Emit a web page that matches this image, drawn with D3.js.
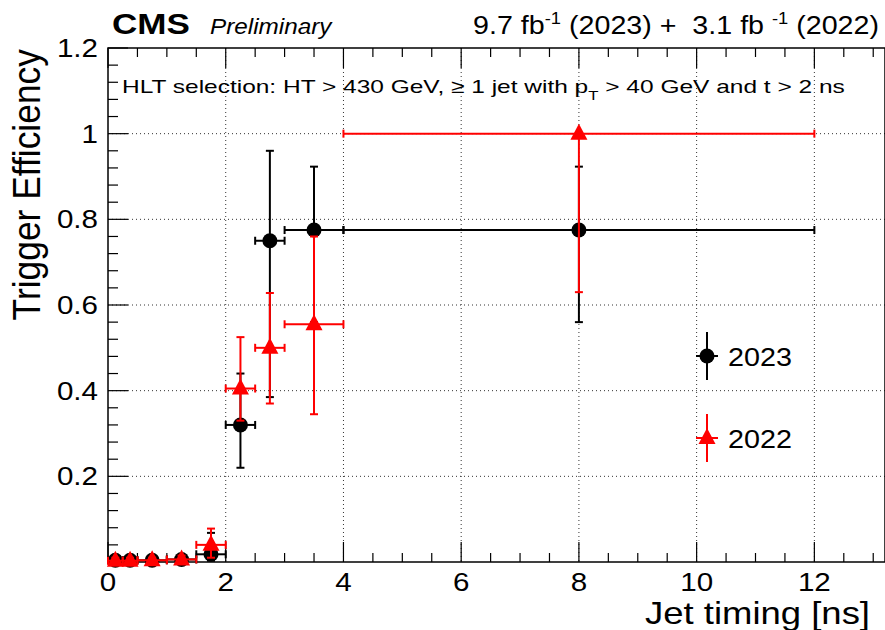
<!DOCTYPE html>
<html><head><meta charset="utf-8">
<script src="https://cdn.jsdelivr.net/npm/d3@7"></script>
<style>body{margin:0;background:#fff}svg{display:block;font-family:"Liberation Sans",Arial,sans-serif}text{white-space:pre}</style>
</head><body><svg id="c" width="885" height="630"></svg>
<script>
const binLo = [0, 0.25, 0.5, 1.0, 1.5, 2.0, 2.5, 3.0, 4.0];
const binHi = [0.25, 0.5, 1.0, 1.5, 2.0, 2.5, 3.0, 4.0, 12.0];
const eff2023 = [0.004, 0.004, 0.004, 0.006, 0.018, 0.32, 0.75, 0.775, 0.775];
const up2023  = [0.012, 0.010, 0.010, 0.012, 0.068, 0.44, 0.96, 0.923, 0.923];
const lo2023  = [0.0, 0.0, 0.0, 0.0, 0.003, 0.22, 0.385, 0.56, 0.56];
const eff2022 = [0.003, 0.003, 0.004, 0.006, 0.040, 0.405, 0.50, 0.555, 1.0];
const up2022  = [0.010, 0.010, 0.010, 0.015, 0.078, 0.525, 0.628, 0.76, 1.0];
const lo2022  = [0.0, 0.0, 0.0, 0.0, 0.010, 0.33, 0.37, 0.345, 0.63];
const xTicks = [0, 2, 4, 6, 8, 10, 12];
const yTicks = [0.2, 0.4, 0.6, 0.8, 1.0, 1.2];
const yTickLabels = ["0.2", "0.4", "0.6", "0.8", "1", "1.2"];

const svg = d3.select("#c");
const L = 108, R = 885, T = 48, B = 562;
const SX = 1.16; // horizontal text stretch seen in the reference
const x = d3.scaleLinear().domain([0, 13.2]).range([L, R]);
const y = d3.scaleLinear().domain([0, 1.2]).range([B, T]);

function txt(px, py, anchor, size, opts = {}) {
  const g = svg.append("g");
  const t = g.append("text").attr("text-anchor", anchor).attr("font-size", size);
  if (opts.weight) t.attr("font-weight", opts.weight);
  if (opts.style) t.attr("font-style", opts.style);
  t._g = g; t._px = px; t._py = py; t._rot = opts.rot || 0; t._fit = opts.fit;
  return t;
}
function place(t) {
  let sx = SX;
  if (t._fit) { const w = t.node().getBBox().width; sx = t._fit / w; }
  if (t._rot) {
    let sy = 1;
    if (t._fit) { const w = t.node().getBBox().width; sy = t._fit / w; }
    t._g.attr("transform", `translate(${t._px},${t._py}) scale(${SX},${sy}) rotate(${t._rot})`);
  } else {
    t._g.attr("transform", `translate(${t._px},${t._py}) scale(${sx},1)`);
  }
}

// grid
const g = svg.append("g");
xTicks.filter(v => v > 0).forEach(v => g.append("line").attr("x1", x(v)).attr("x2", x(v)).attr("y1", T).attr("y2", B)
  .attr("stroke", "#333").attr("stroke-width", 1).attr("stroke-dasharray", "1,3"));
yTicks.filter(v => v < 1.2).forEach(v => g.append("line").attr("x1", L).attr("x2", R).attr("y1", y(v)).attr("y2", y(v))
  .attr("stroke", "#333").attr("stroke-width", 1).attr("stroke-dasharray", "1,3"));

// frame
svg.append("rect").attr("x", L).attr("y", T).attr("width", R - L).attr("height", B - T)
  .attr("fill", "none").attr("stroke", "#000").attr("stroke-width", 1.5);

// ticks (inside)
const xMinor = d3.range(0, 13.21, 0.5);
const yMinor = d3.range(0, 1.201, 0.04);
xMinor.forEach(v => {
  const major = Math.abs(v / 2 - Math.round(v / 2)) < 1e-6;
  const len = major ? 20 : 9;
  svg.append("line").attr("x1", x(v)).attr("x2", x(v)).attr("y1", B).attr("y2", B - len).attr("stroke", "#000").attr("stroke-width", 1.2);
  svg.append("line").attr("x1", x(v)).attr("x2", x(v)).attr("y1", T).attr("y2", T + len).attr("stroke", "#000").attr("stroke-width", 1.2);
});
yMinor.forEach(v => {
  const major = Math.abs(v / 0.2 - Math.round(v / 0.2)) < 1e-6;
  const len = major ? 20 : 10;
  svg.append("line").attr("x1", L).attr("x2", L + len).attr("y1", y(v)).attr("y2", y(v)).attr("stroke", "#000").attr("stroke-width", 1.2);
});

// tick labels
xTicks.forEach(v => { const t = txt(x(v), 591, "middle", 25.5); t.text(v); place(t); });
yTicks.forEach((v, i) => { const t = txt(98, y(v) + 9, "end", 25.5); t.text(yTickLabels[i]); place(t); });

// axis titles
{ const t = txt(870, 624, "end", 32, { fit: 225 }); t.text("Jet timing [ns]"); place(t); }
{ const t = txt(40, 49, "end", 33, { rot: -90, fit: 272 }); t.text("Trigger Efficiency"); place(t); }

// header
{ const t = txt(112, 34, "start", 29, { weight: "bold", fit: 78 }); t.text("CMS"); place(t); }
{ const t = txt(210, 34, "start", 21.5, { style: "italic", fit: 123 }); t.text("Preliminary"); place(t); }
{
  const t = txt(879, 34, "end", 25, { fit: 406 });
  t.append("tspan").text("9.7 fb");
  t.append("tspan").attr("dy", -10).attr("font-size", 16).text("-1");
  t.append("tspan").attr("dy", 10).text(" (2023) +\u00A0 3.1 fb\u00A0");
  t.append("tspan").attr("dy", -10).attr("font-size", 16).text("-1");
  t.append("tspan").attr("dy", 10).text(" (2022)");
  place(t);
}
{
  const t = txt(122, 93, "start", 19, { fit: 723 });
  t.append("tspan").text("HLT selection: HT > 430 GeV, \u2265 1 jet with p");
  t.append("tspan").attr("dy", 7).attr("font-size", 13).text("T");
  t.append("tspan").attr("dy", -7).text(" > 40 GeV and t > 2 ns");
  place(t);
}

// data
function series(eff, up, lo, color, marker) {
  const gg = svg.append("g");
  const cap = 4;
  eff.forEach((v, i) => {
    const cx = x((binLo[i] + binHi[i]) / 2), cy = y(v);
    const x1 = x(binLo[i]), x2 = x(binHi[i]), yu = y(up[i]), yl = y(lo[i]);
    const ln = (a, b, c, d) => gg.append("line").attr("x1", a).attr("y1", b).attr("x2", c).attr("y2", d)
      .attr("stroke", color).attr("stroke-width", 2);
    ln(x1, cy, x2, cy);
    ln(cx, yu, cx, yl);
    ln(x1, cy - cap, x1, cy + cap); ln(x2, cy - cap, x2, cy + cap);
    ln(cx - cap, yu, cx + cap, yu); ln(cx - cap, yl, cx + cap, yl);
    drawMarker(gg, marker, cx, cy, color);
  });
}
function drawMarker(gg, marker, cx, cy, color) {
  if (marker === "circle") gg.append("circle").attr("cx", cx).attr("cy", cy).attr("r", 7.5).attr("fill", color);
  else gg.append("path").attr("d", `M${cx},${cy - 10} L${cx + 8.5},${cy + 6} L${cx - 8.5},${cy + 6} Z`).attr("fill", color);
}
series(eff2023, up2023, lo2023, "#000", "circle");
series(eff2022, up2022, lo2022, "#ff0000", "triangle");

// legend
const leg = [{ label: "2023", color: "#000", m: "circle", y: 356 }, { label: "2022", color: "#ff0000", m: "triangle", y: 438 }];
leg.forEach(d => {
  const lx = 707;
  svg.append("line").attr("x1", lx).attr("x2", lx).attr("y1", d.y - 24).attr("y2", d.y + 24).attr("stroke", d.color).attr("stroke-width", 2);
  svg.append("line").attr("x1", lx - 11).attr("x2", lx + 11).attr("y1", d.y).attr("y2", d.y).attr("stroke", d.color).attr("stroke-width", 2);
  drawMarker(svg, d.m, lx, d.y, d.color);
  const t = txt(728, d.y + 10, "start", 26, { fit: 64 }); t.text(d.label); place(t);
});
</script></body></html>
